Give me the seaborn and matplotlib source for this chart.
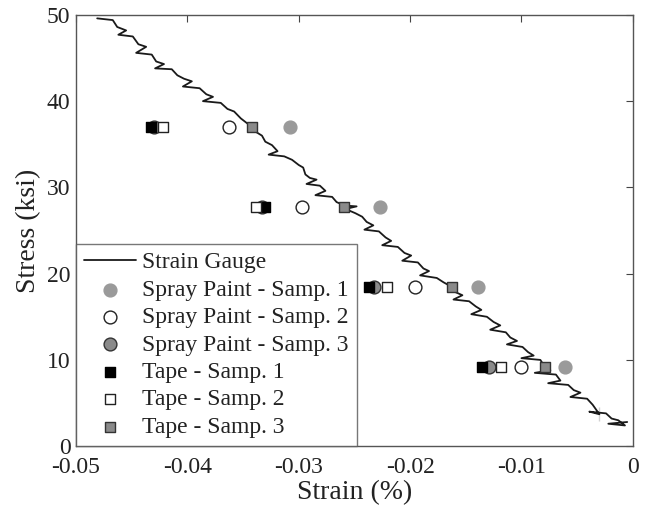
import numpy as np
import pandas as pd
import matplotlib
matplotlib.use('Agg')
import matplotlib.pyplot as plt
import seaborn as sns

sns.set_style('white')
plt.rcParams['font.family'] = ['Liberation Serif', 'DejaVu Serif']

# strain gauge trace
gauge_strain = [-0.0481, -0.0467, -0.0463, -0.0455, -0.0462, -0.0449, -0.0444, -0.0437, -0.0446, -0.0432,
                -0.0428, -0.0421, -0.0429, -0.0414, -0.0409, -0.0403, -0.0396, -0.0404, -0.0389, -0.0383,
                -0.0377, -0.0386, -0.0370, -0.0364, -0.0358, -0.0352, -0.0348, -0.0342, -0.0338, -0.0333,
                -0.0330, -0.0324, -0.0319, -0.0327, -0.0313, -0.0306, -0.0300, -0.0296, -0.0294, -0.0290,
                -0.0284, -0.0293, -0.0281, -0.0276, -0.0285, -0.0270, -0.0266, -0.0259, -0.0248, -0.0258,
                -0.0249, -0.0243, -0.0239, -0.0233, -0.0241, -0.0228, -0.0222, -0.0217, -0.0225, -0.0211,
                -0.0205, -0.0199, -0.0207, -0.0193, -0.0188, -0.0183, -0.0191, -0.0176, -0.0170, -0.0163,
                -0.0160, -0.0153, -0.0161, -0.0147, -0.0141, -0.0136, -0.0145, -0.0131, -0.0125, -0.0119,
                -0.0128, -0.0114, -0.0110, -0.0104, -0.0113, -0.0099, -0.0094, -0.0089, -0.0100, -0.0083,
                -0.0079, -0.0074, -0.0088, -0.0069, -0.0065, -0.0076, -0.0058, -0.0053, -0.0047, -0.0056,
                -0.0041, -0.0036, -0.0030, -0.0039, -0.0024, -0.0019, -0.0013, -0.0030, -0.0010, -0.0007,
                -0.0022, -0.0005]
gauge_stress = [49.6, 49.4, 48.6, 48.2, 47.7, 47.5, 46.6, 46.3, 45.6, 45.4,
                44.6, 44.3, 43.8, 43.7, 43.0, 42.6, 42.3, 41.7, 41.5, 40.8,
                40.5, 40.0, 39.8, 39.1, 38.8, 38.0, 37.6, 37.0, 36.4, 36.0,
                35.3, 34.9, 34.2, 33.8, 33.6, 33.2, 32.6, 32.3, 31.5, 31.1,
                30.9, 30.4, 30.2, 29.6, 29.1, 28.9, 28.3, 27.9, 27.8, 27.5,
                27.0, 26.6, 26.0, 25.6, 25.1, 24.9, 24.2, 23.8, 23.3, 23.1,
                22.4, 22.1, 21.5, 21.3, 20.6, 20.3, 19.8, 19.5, 19.0, 18.5,
                17.9, 17.5, 17.0, 16.8, 16.2, 15.8, 15.3, 15.0, 14.4, 14.0,
                13.5, 13.2, 12.6, 12.2, 11.8, 11.5, 10.9, 10.5, 10.2, 10.0,
                9.2, 8.8, 8.5, 8.3, 7.6, 7.3, 7.1, 6.5, 6.2, 5.7,
                5.5, 4.8, 4.5, 4.0, 3.8, 3.2, 3.0, 2.9, 2.7, 2.4,
                2.6, 2.8]

# DIC load levels (ksi)
stress_levels = [37.0, 27.7, 18.4, 9.2]

spray1 = [-0.0308, -0.0227, -0.0139, -0.0061]
spray2 = [-0.0363, -0.0297, -0.0196, -0.0100]
spray3 = [-0.0430, -0.0333, -0.0232, -0.0129]
tape1 = [-0.0433, -0.0330, -0.0237, -0.0135]
tape2 = [-0.0422, -0.0338, -0.0221, -0.0118]
tape3 = [-0.0342, -0.0259, -0.0162, -0.0079]

fig = plt.figure(figsize=(6.47, 5.14), dpi=100)
ax = fig.add_axes([0.1175, 0.132, 0.8605, 0.839])

gauge = pd.DataFrame({'strain': gauge_strain, 'stress': gauge_stress})
sns.lineplot(data=gauge, x='strain', y='stress', sort=False, color='#1a1a1a', lw=1.3,
             ax=ax, label='Strain Gauge')

series = [
    ('Spray Paint - Samp. 1', spray1, 'o', '#9a9a9a', '#9a9a9a'),
    ('Spray Paint - Samp. 2', spray2, 'o', 'white', '#222222'),
    ('Spray Paint - Samp. 3', spray3, 'o', '#8a8a8a', '#333333'),
    ('Tape - Samp. 1', tape1, 's', 'black', 'black'),
    ('Tape - Samp. 2', tape2, 's', 'white', '#222222'),
    ('Tape - Samp. 3', tape3, 's', '#8a8a8a', '#333333'),
]
for name, vals, mk, fc, ec in series:
    sz = 85 if mk == 'o' else 60
    sns.scatterplot(x=vals, y=stress_levels, marker=mk, color=fc, edgecolor=ec,
                    linewidth=1.0, s=sz, ax=ax, label=name, zorder=3)

ax.set_xlim(-0.05, 0)
ax.set_ylim(0, 50)
ax.set_xticks([-0.05, -0.04, -0.03, -0.02, -0.01, 0])
ax.set_xticklabels(['-0.05', '-0.04', '-0.03', '-0.02', '-0.01', '0'])
ax.set_yticks([0, 10, 20, 30, 40, 50])
ax.tick_params(direction='in', top=True, right=True, length=5, width=0.8,
               colors='#444444', labelcolor='#222222', labelsize=17, pad=4)
ax.tick_params(axis='x', pad=8)
for sp in ax.spines.values():
    sp.set_color('#555555')
    sp.set_linewidth(1.0)
ax.set_xlabel('Strain (%)', fontsize=20, color='#222222', labelpad=1)
ax.set_ylabel('Stress (ksi)', fontsize=20, color='#222222', labelpad=4)

leg = ax.legend(loc='lower left', borderaxespad=0, fontsize=17, frameon=True,
                fancybox=False, edgecolor='#555555', handlelength=2.2,
                labelspacing=0.25, borderpad=0.35, handletextpad=0.25)
leg.get_frame().set_linewidth(1.0)
for t in leg.get_texts():
    t.set_color('#222222')

fig.savefig('out.png', dpi=100)
